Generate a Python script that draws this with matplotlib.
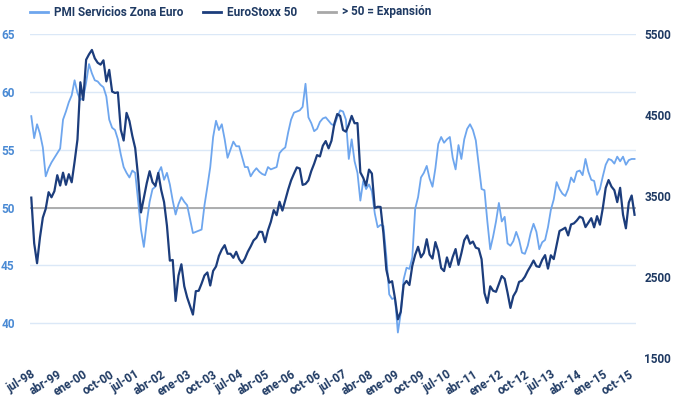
import matplotlib.pyplot as plt
from matplotlib.lines import Line2D

# PMI servicios zona euro, mensual jul-98 .. dic-15
pmi = [
    57.9, 56.0, 57.2, 56.4, 55.2, 52.7,
    53.4, 53.9, 54.3, 54.7, 55.1, 57.6, 58.3, 59.1, 59.7, 61.0, 59.9, 59.3,
    59.5, 60.8, 62.4, 61.6, 61.0, 60.9, 60.6, 60.4, 59.6, 57.6, 56.9, 56.7,
    55.9, 54.6, 53.5, 53.0, 52.6, 53.2, 53.0, 50.6, 48.1, 46.6, 48.7, 50.5,
    51.6, 51.8, 53.0, 53.5, 52.4, 53.0, 52.0, 50.6, 49.4, 50.3, 50.9, 50.5,
    50.2, 49.0, 47.8, 47.9, 48.0, 48.1, 50.2, 51.8, 53.5, 56.1, 57.5, 56.7,
    57.2, 55.9, 54.3, 55.0, 55.7, 55.3, 55.3, 54.4, 53.5, 53.5, 52.7, 53.1,
    53.4, 53.1, 52.9, 52.8, 53.5, 53.3, 53.4, 53.5, 54.7, 55.0, 55.2, 56.5,
    57.6, 58.2, 58.3, 58.4, 58.7, 60.7, 57.8, 57.3, 56.6, 56.8, 57.4, 57.7,
    57.8, 57.5, 57.2, 57.1, 57.8, 58.4, 58.3, 57.6, 54.2, 55.9, 54.0, 53.0,
    50.6, 52.3, 51.6, 52.0, 51.4, 49.5, 48.3, 48.5, 48.4, 45.8, 42.5, 42.1,
    42.2, 39.2, 40.9, 43.8, 44.8, 44.7, 45.7, 49.9, 50.9, 52.6, 53.0, 53.6,
    52.5, 51.8, 53.4, 55.5, 56.1, 55.6, 55.9, 56.1, 54.3, 53.3, 55.4, 54.2,
    55.9, 56.8, 57.2, 56.7, 55.8, 53.7, 51.6, 51.5, 48.8, 46.4, 47.5, 48.8,
    50.4, 48.8, 49.2, 46.9, 46.7, 47.1, 47.9, 47.2, 46.1, 46.0, 46.7, 47.8,
    48.6, 47.9, 46.4, 47.0, 47.2, 48.3, 49.8, 50.7, 52.2, 51.6, 51.2, 51.0,
    51.6, 52.6, 52.2, 53.1, 53.2, 52.8, 54.2, 53.1, 52.4, 52.3, 51.1, 51.6,
    52.7, 53.7, 54.2, 54.1, 53.8, 54.4, 54.0, 54.4, 53.7, 54.1, 54.2, 54.2,
]

# EuroStoxx 50, cierre mensual
stoxx = [
    3480, 2917, 2670, 2987, 3233, 3342,
    3547, 3484, 3559, 3757, 3629, 3788, 3638, 3769, 3669, 3922, 4198, 4904,
    4685, 5182, 5249, 5303, 5200, 5145, 5122, 5175, 4915, 5057, 4790, 4772,
    4780, 4319, 4185, 4526, 4426, 4243, 4091, 3743, 3297, 3478, 3658, 3806,
    3670, 3625, 3784, 3574, 3425, 3133, 2702, 2710, 2204, 2518, 2657, 2386,
    2248, 2140, 2036, 2325, 2330, 2419, 2519, 2556, 2395, 2575, 2630, 2761,
    2839, 2893, 2787, 2787, 2737, 2811, 2721, 2671, 2726, 2811, 2877, 2951,
    2985, 3059, 3056, 2930, 3076, 3182, 3326, 3263, 3429, 3320, 3448, 3579,
    3692, 3775, 3853, 3839, 3637, 3649, 3692, 3808, 3899, 4005, 3988, 4120,
    4178, 4088, 4182, 4393, 4512, 4489, 4315, 4294, 4381, 4489, 4398, 4400,
    3792, 3724, 3628, 3826, 3777, 3352, 3367, 3365, 3038, 2592, 2430, 2448,
    2237, 1977, 2071, 2404, 2451, 2401, 2638, 2775, 2873, 2743, 2797, 2966,
    2776, 2728, 2931, 2817, 2610, 2573, 2742, 2623, 2748, 2845, 2650, 2793,
    2954, 3013, 2911, 2938, 2862, 2849, 2719, 2303, 2180, 2385, 2330, 2317,
    2416, 2512, 2477, 2306, 2118, 2264, 2325, 2440, 2454, 2503, 2575, 2636,
    2703, 2633, 2624, 2712, 2770, 2603, 2768, 2721, 2893, 3068, 3087, 3109,
    3013, 3149, 3162, 3198, 3245, 3228, 3116, 3172, 3226, 3113, 3251, 3146,
    3351, 3599, 3697, 3616, 3571, 3424, 3601, 3270, 3101, 3418, 3506, 3268,
]

tick_labels = ['jul-98', 'abr-99', 'ene-00', 'oct-00', 'jul-01', 'abr-02',
               'ene-03', 'oct-03', 'jul-04', 'abr-05', 'ene-06', 'oct-06',
               'jul-07', 'abr-08', 'ene-09', 'oct-09', 'jul-10', 'abr-11',
               'ene-12', 'oct-12', 'jul-13', 'abr-14', 'ene-15', 'oct-15']
tick_step = 9
left_ticks = [40, 45, 50, 55, 60, 65]
right_ticks = [1500, 2500, 3500, 4500, 5500]

LIGHT = '#6ea6ee'
DARK = '#1c3d7c'
GREY = '#a8a8a8'
NAVY_TXT = '#1f3a63'
BLUE_TXT = '#4a8ad4'
W, H = 680, 398

plt.rcParams['font.family'] = ['Roboto', 'DejaVu Sans']
plt.rcParams['font.weight'] = 'bold'

fig = plt.figure(figsize=(W / 100, H / 100), dpi=100)
ax = fig.add_axes([0.0441, 0.1005, 0.8912, 0.8141])
ax2 = ax.twinx()

months = list(range(len(pmi)))
ax.axhline(50, color=GREY, lw=1.3, zorder=1)
ax.plot(months, pmi, color=LIGHT, lw=1.3, zorder=2)
ax2.plot(months, stoxx, color=DARK, lw=1.6, zorder=3)

ax.set_xlim(-0.45, len(pmi) - 0.5)
ax.set_ylim(37, 65)
ax2.set_ylim(1500, 5500)
ax.set_yticks(left_ticks)
ax2.set_yticks(right_ticks)
ax.yaxis.grid(True, color='#dbe8f7', lw=1)
ax.set_axisbelow(True)

ax.set_xticks(range(0, len(pmi), tick_step))
ax.set_xticklabels(tick_labels, rotation=32, ha='right', va='top',
                   rotation_mode='anchor')
for a in (ax, ax2):
    for s in a.spines.values():
        s.set_visible(False)
    a.tick_params(length=0)
ax.tick_params(axis='x', pad=7, labelsize=8.5, labelcolor=NAVY_TXT)
ax.tick_params(axis='y', pad=11, labelsize=8.5, labelcolor=BLUE_TXT)
ax2.tick_params(axis='y', pad=6, labelsize=8.5, labelcolor=NAVY_TXT)

# legend drawn by hand so each entry sits where the reference has it
legend = [('PMI Servicios Zona Euro', LIGHT, 30),
          ('EuroStoxx 50', DARK, 203),
          ('> 50 = Expansión', GREY, 318)]
ly = 1 - 12 / H
for name, col, x0 in legend:
    fig.add_artist(Line2D([x0 / W, (x0 + 18) / W], [ly, ly], color=col, lw=2,
                          transform=fig.transFigure))
    fig.text((x0 + 24) / W, ly, name, color=NAVY_TXT, fontsize=8.5,
             fontweight='bold', va='center', ha='left')

fig.savefig('out.png', dpi=100)
